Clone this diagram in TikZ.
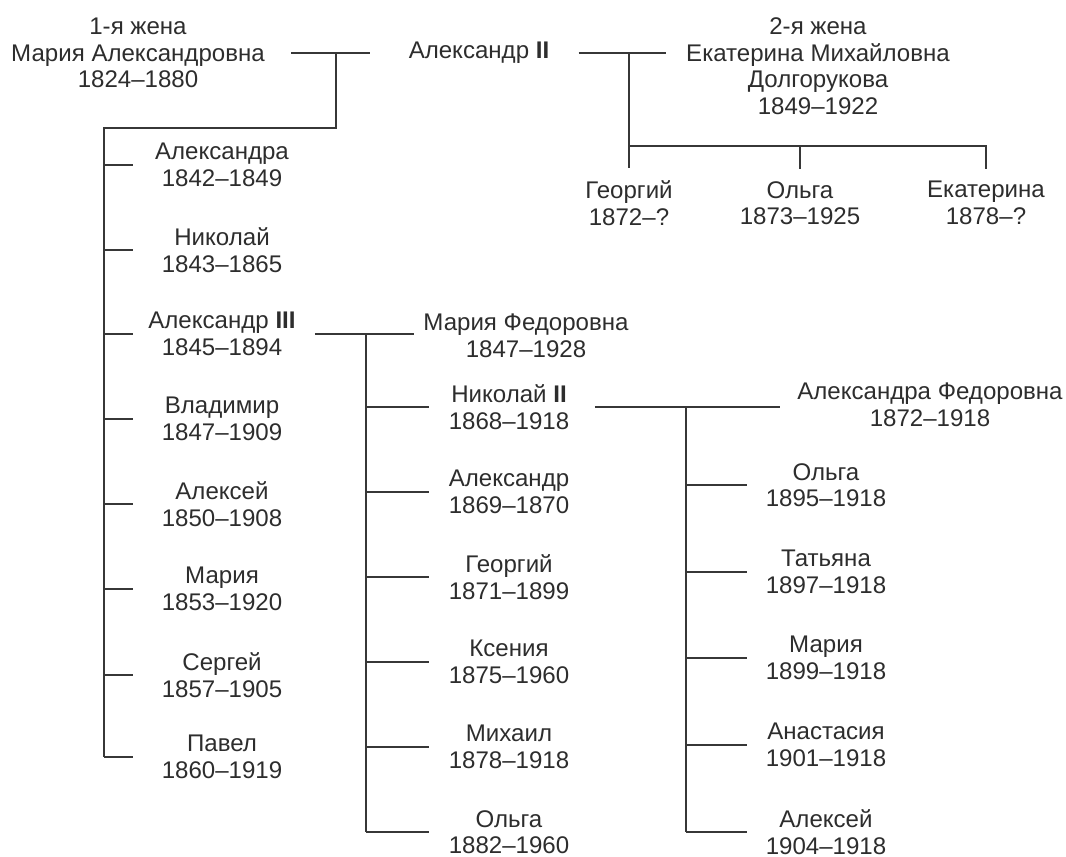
\documentclass[tikz,border=0pt]{standalone}
\usepackage{fontspec}
\setmainfont{Liberation Sans}
\usetikzlibrary{positioning, calc}
\definecolor{InkGray}{RGB}{45,45,45}
\definecolor{LineGray}{RGB}{55,55,55}

\begin{document}
\begin{tikzpicture}[x=0.02cm, y=-0.02cm,
    person/.style={align=center, text=InkGray, inner sep=0pt,
        font=\fontsize{13.7}{15.1}\selectfont},
    link/.style={draw=LineGray, line width=0.85pt}]
    \useasboundingbox (0,0) rectangle (1066,857);

    % Alexander II and wives
    \node[person] (W1) at (138,53) {1-я жена\\Мария Александровна\\1824–1880};
    \node[person] (A2) at (479,53) {Александр \textbf{II}};
    \node[person] (W2) at (818,66) {2-я жена\\Екатерина Михайловна\\Долгорукова\\1849–1922};

    \draw[link, shorten <=14.8pt, shorten >=21.6pt] (W1) -- (A2);
    \draw[link, shorten <=16.5pt, shorten >=11.4pt] (A2.east) -- (A2.east -| W2.west);
    \coordinate (J1) at (336,53);
    \coordinate (TL) at (104,128);
    \coordinate (J2) at (629,53);
    \coordinate (B2) at (629,146);

    % children of the second marriage
    \node[person] (K1) at (629,203) {Георгий\\1872–?};
    \node[person] (K2) at (800,203) {Ольга\\1873–1925};
    \node[person] (K3) at (986,203) {Екатерина\\1878–?};

    \draw[link, shorten >=7pt] (J2) -- (K1.north);
    \draw[link, shorten >=7pt] (B2) -| (K3.north);
    \draw[link, shorten >=7pt] (B2 -| K2) -- (K2.north);

    % children of the first marriage
    \node[person] (C1) at (222,165) {Александра\\1842–1849};
    \node[person] (C2) at (222,250) {Николай\\1843–1865};
    \node[person] (C3) at (222,334) {Александр \textbf{III}\\1845–1894};
    \node[person] (C4) at (222,419) {Владимир\\1847–1909};
    \node[person] (C5) at (222,504) {Алексей\\1850–1908};
    \node[person] (C6) at (222,589) {Мария\\1853–1920};
    \node[person] (C7) at (222,675) {Сергей\\1857–1905};
    \node[person] (C8) at (222,757) {Павел\\1860–1919};

    \draw[link] (J1) -- (J1 |- TL) -- (TL) -- (TL |- C8);
    \draw[link] (TL |- C1) -- ++(29,0);
    \draw[link] (TL |- C2) -- ++(29,0);
    \draw[link] (TL |- C3) -- ++(29,0);
    \draw[link] (TL |- C4) -- ++(29,0);
    \draw[link] (TL |- C5) -- ++(29,0);
    \draw[link] (TL |- C6) -- ++(29,0);
    \draw[link] (TL |- C7) -- ++(29,0);
    \draw[link] (TL |- C8) -- ++(29,0);

    % Alexander III and Maria Fyodorovna
    \node[person] (MF) at (526,336) {Мария Федоровна\\1847–1928};
    \draw[link, shorten <=10.8pt, shorten >=5pt] (C3.east) -- (C3.east -| MF.west);
    \coordinate (J3) at (366,334);

    \node[person] (D1) at (509,407) {Николай \textbf{II}\\1868–1918};
    \node[person] (D2) at (509,492) {Александр\\1869–1870};
    \node[person] (D3) at (509,577) {Георгий\\1871–1899};
    \node[person] (D4) at (509,662) {Ксения\\1875–1960};
    \node[person] (D5) at (509,747) {Михаил\\1878–1918};
    \node[person] (D6) at (509,832) {Ольга\\1882–1960};

    \draw[link] (J3) -- (J3 |- D6);
    \draw[link] (J3 |- D1) -- ++(63,0);
    \draw[link] (J3 |- D2) -- ++(63,0);
    \draw[link] (J3 |- D3) -- ++(63,0);
    \draw[link] (J3 |- D4) -- ++(63,0);
    \draw[link] (J3 |- D5) -- ++(63,0);
    \draw[link] (J3 |- D6) -- ++(63,0);

    % Nicholas II and Alexandra Fyodorovna
    \node[person] (AF) at (930,405) {Александра Федоровна\\1872–1918};
    \draw[link, shorten <=14.4pt, shorten >=9.7pt] (D1.east) -- (D1.east -| AF.west);
    \coordinate (J4) at (686,407);

    \node[person] (E1) at (826,485) {Ольга\\1895–1918};
    \node[person] (E2) at (826,572) {Татьяна\\1897–1918};
    \node[person] (E3) at (826,658) {Мария\\1899–1918};
    \node[person] (E4) at (826,745) {Анастасия\\1901–1918};
    \node[person] (E5) at (826,832) {Алексей\\1904–1918};

    \draw[link] (J4) -- (J4 |- E5);
    \draw[link] (J4 |- E1) -- ++(61,0);
    \draw[link] (J4 |- E2) -- ++(61,0);
    \draw[link] (J4 |- E3) -- ++(61,0);
    \draw[link] (J4 |- E4) -- ++(61,0);
    \draw[link] (J4 |- E5) -- ++(61,0);
\end{tikzpicture}
\end{document}
